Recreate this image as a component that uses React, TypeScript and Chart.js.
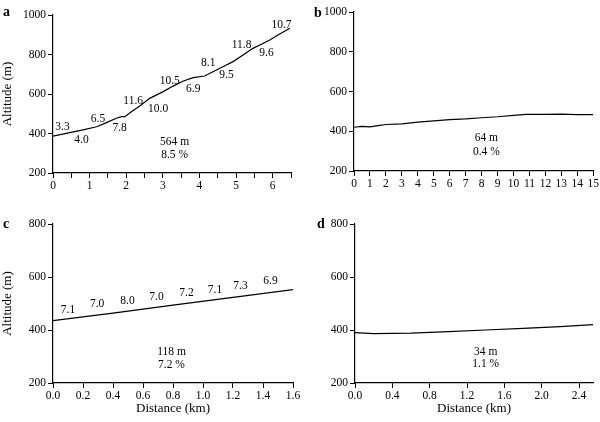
import React, { useEffect, useRef } from 'react';
import { Chart, registerables } from 'chart.js';

Chart.register(...registerables);

// ---------- Data ----------
// Panel a
const aDistance = [0, 0.46, 0.82, 1.19, 1.46, 1.73, 1.87, 1.96, 2.14, 2.37, 2.64, 3.01, 3.28, 3.56, 3.83, 4.14, 4.37, 4.64, 4.92, 5.19, 5.46, 5.65, 5.92, 6.19, 6.47];
const aAltitude = [387, 404, 418, 434, 455, 477, 485, 485, 510, 539, 578, 612, 640, 666, 683, 691, 713, 738, 764, 797, 831, 848, 873, 904, 933];
const aLabels = ['3.3', '4.0', '6.5', '7.8', '11.6', '10.0', '10.5', '6.9', '8.1', '9.5', '11.8', '9.6', '10.7', '564 m', '8.5 %'];
const aLabelX = [0.26, 0.78, 1.23, 1.82, 2.19, 2.87, 3.19, 3.83, 4.24, 4.74, 5.15, 5.83, 6.24, 3.32, 3.32];
const aLabelY = [431, 368, 472, 426, 566, 522, 666, 624, 755, 696, 848, 806, 949, 357, 290];

// Panel b
const bDistance = [0, 0.5, 1, 1.5, 2, 3, 4, 5, 6, 7, 8, 9, 10, 10.8, 12, 13, 14, 15];
const bAltitude = [420, 425, 422, 428, 434, 437, 446, 452, 458, 462, 468, 473, 480, 485, 485, 486, 484, 484];
const bLabels = ['64 m', '0.4 %'];
const bLabelX = [8.3, 8.3];
const bLabelY = [364, 297];

// Panel c
const cDistance = [0, 0.4, 0.8, 1.2, 1.6];
const cAltitude = [435, 464, 494, 523, 552];
const cLabels = ['7.1', '7.0', '8.0', '7.0', '7.2', '7.1', '7.3', '6.9', '118 m', '7.2 %'];
const cLabelX = [0.1, 0.294, 0.497, 0.69, 0.89, 1.08, 1.25, 1.45, 0.79, 0.79];
const cLabelY = [477, 497, 510, 523, 539, 552, 567, 586, 317, 269];

// Panel d
const dDistance = [0, 0.1, 0.2, 0.6, 1.0, 1.4, 1.8, 2.2, 2.55];
const dAltitude = [390, 388, 386, 388, 394, 400, 406, 413, 420];
const dLabels = ['34 m', '1.1 %'];
const dLabelX = [1.4, 1.4];
const dLabelY = [318, 270];

const FONT = '"Liberation Serif", "Times New Roman", serif';

type Panel = {
  letter: string;
  letterDx: number;
  letterDy: number;
  area: { left: number; top: number; right: number; bottom: number };
  xs: number[];
  ys: number[];
  labels: string[];
  labelX: number[];
  labelY: number[];
  xMax: number;
  xStep: number;
  yMin: number;
  yMax: number;
  xFmt: (v: number) => string;
  xTitle: boolean;
  yTitle: boolean;
};

const panels: Panel[] = [
  {
    letter: 'a', letterDx: -50, letterDy: 1,
    area: { left: 53, top: 15, right: 291, bottom: 173 },
    xs: aDistance, ys: aAltitude, labels: aLabels, labelX: aLabelX, labelY: aLabelY,
    xMax: 6.5, xStep: 0.5, yMin: 200, yMax: 1000,
    xFmt: (v) => (Math.abs(v - Math.round(v)) < 1e-6 ? String(Math.round(v)) : ''),
    xTitle: false, yTitle: true,
  },
  {
    letter: 'b', letterDx: -40, letterDy: 5,
    area: { left: 354, top: 12, right: 594, bottom: 171 },
    xs: bDistance, ys: bAltitude, labels: bLabels, labelX: bLabelX, labelY: bLabelY,
    xMax: 15, xStep: 1, yMin: 200, yMax: 1000,
    xFmt: (v) => String(Math.round(v)),
    xTitle: false, yTitle: false,
  },
  {
    letter: 'c', letterDx: -50, letterDy: 4,
    area: { left: 53, top: 224, right: 293, bottom: 383 },
    xs: cDistance, ys: cAltitude, labels: cLabels, labelX: cLabelX, labelY: cLabelY,
    xMax: 1.6, xStep: 0.2, yMin: 200, yMax: 800,
    xFmt: (v) => v.toFixed(1),
    xTitle: true, yTitle: true,
  },
  {
    letter: 'd', letterDx: -38, letterDy: 4,
    area: { left: 355, top: 224, right: 593, bottom: 383 },
    xs: dDistance, ys: dAltitude, labels: dLabels, labelX: dLabelX, labelY: dLabelY,
    xMax: 2.55, xStep: 0.4, yMin: 200, yMax: 800,
    xFmt: (v) => v.toFixed(1),
    xTitle: true, yTitle: false,
  },
];

const textPlugin = {
  id: 'panelText',
  afterDatasetsDraw(chart: any, _args: any, opts: any) {
    const { ctx, chartArea } = chart;
    const xs = chart.scales.x;
    const ys = chart.scales.y;
    ctx.save();
    ctx.fillStyle = '#000';
    ctx.font = `11.5px ${FONT}`;
    ctx.textAlign = 'center';
    ctx.textBaseline = 'middle';
    const labels: string[] = opts.labels || [];
    labels.forEach((t, i) => {
      ctx.fillText(t, xs.getPixelForValue(opts.labelX[i]), ys.getPixelForValue(opts.labelY[i]));
    });
    ctx.font = `bold 14px ${FONT}`;
    ctx.textAlign = 'left';
    ctx.textBaseline = 'alphabetic';
    ctx.fillText(opts.letter, chartArea.left + opts.letterDx, chartArea.top + opts.letterDy);
    ctx.restore();
  },
};

const W_Y = 53;
const H_X = 33;

function PanelChart({ p }: { p: Panel }) {
  const ref = useRef<HTMLCanvasElement | null>(null);
  useEffect(() => {
    if (!ref.current) return;
    const chart = new Chart(ref.current, {
      type: 'line',
      data: {
        datasets: [
          {
            data: p.xs.map((x, i) => ({ x, y: p.ys[i] })),
            borderColor: '#000',
            borderWidth: 1.2,
            pointRadius: 0,
            tension: 0,
            fill: false,
          },
        ],
      },
      options: {
        responsive: false,
        animation: false,
        events: [],
        layout: {
          padding: {
            left: p.area.left - W_Y,
            top: p.area.top,
            right: 600 - p.area.right,
            bottom: 422 - p.area.bottom - H_X,
          },
        },
        plugins: {
          legend: { display: false },
          tooltip: { enabled: false },
          title: { display: false },
          panelText: {
            labels: p.labels,
            labelX: p.labelX,
            labelY: p.labelY,
            letter: p.letter,
            letterDx: p.letterDx,
            letterDy: p.letterDy,
          },
        } as any,
        scales: {
          x: {
            type: 'linear',
            min: 0,
            max: p.xMax,
            afterFit: (s: any) => { s.height = H_X; },
            grid: { drawOnChartArea: false, drawTicks: true, tickLength: 5, color: '#000', lineWidth: 1 },
            border: { display: true, color: '#000', width: 1.2 },
            ticks: {
              stepSize: p.xStep,
              includeBounds: false,
              autoSkip: false,
              maxRotation: 0,
              padding: 1,
              color: '#000',
              font: { family: FONT, size: 11.5 },
              callback: (v: any) => p.xFmt(Number(v)),
            },
            title: {
              display: p.xTitle,
              text: 'Distance (km)',
              color: '#000',
              font: { family: FONT, size: 13 },
              padding: { top: 0, bottom: 0 },
            },
          },
          y: {
            type: 'linear',
            min: p.yMin,
            max: p.yMax,
            afterFit: (s: any) => { s.width = W_Y; },
            grid: { drawOnChartArea: false, drawTicks: true, tickLength: 5, color: '#000', lineWidth: 1 },
            border: { display: true, color: '#000', width: 1.2 },
            ticks: {
              stepSize: 200,
              padding: 2,
              color: '#000',
              font: { family: FONT, size: 11.5 },
              callback: (v: any) => String(v),
            },
            title: {
              display: p.yTitle,
              text: 'Altitude (m)',
              color: '#000',
              font: { family: FONT, size: 13 },
              padding: { top: 0, bottom: 0 },
            },
          },
        },
      },
      plugins: [textPlugin],
    } as any);
    return () => chart.destroy();
  }, [p]);
  return (
    <canvas
      ref={ref}
      width={600}
      height={422}
      style={{ position: 'absolute', left: 0, top: 0, width: 600, height: 422 }}
    />
  );
}

export default function App() {
  return (
    <div style={{ position: 'fixed', left: 0, top: 0, width: 600, height: 422, background: '#fff' }}>
      {panels.map((p) => (
        <PanelChart key={p.letter} p={p} />
      ))}
    </div>
  );
}
